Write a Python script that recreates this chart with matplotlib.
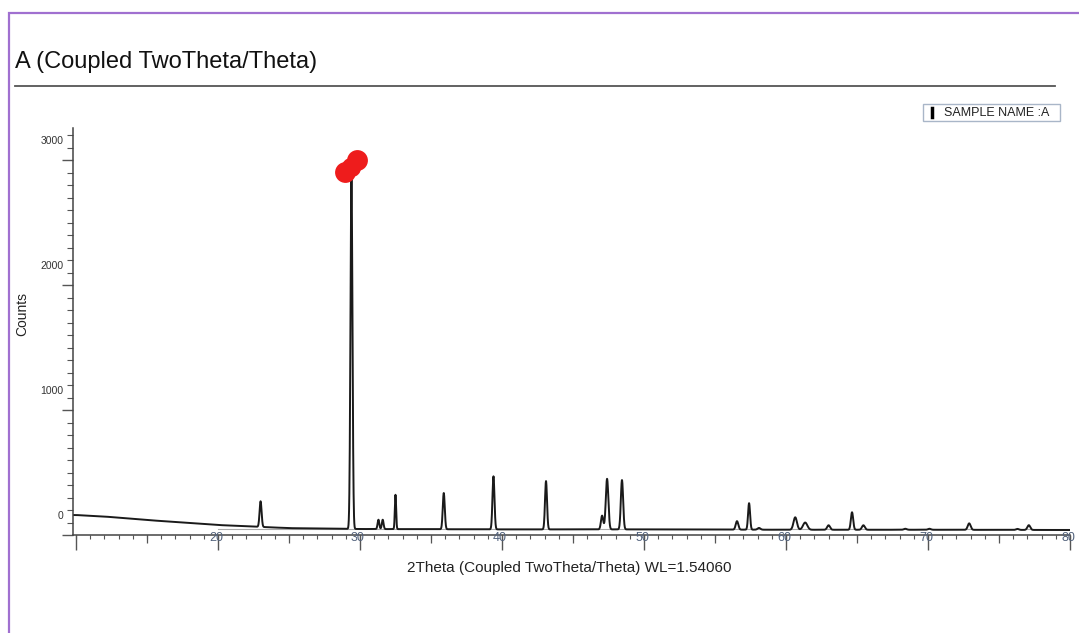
import numpy as np
import matplotlib
matplotlib.use("Agg")
import matplotlib.pyplot as plt
import matplotlib.transforms as mtransforms
from matplotlib.patches import Rectangle
from matplotlib.lines import Line2D

plt.rcParams['font.family'] = ['Liberation Sans', 'DejaVu Sans']

# background counts read at a few 2theta positions
bg_theta = [10, 12, 15, 20, 25, 30, 40, 50, 60, 70, 80]
bg_counts = [160, 148, 120, 80, 55, 48, 45, 45, 42, 42, 40]

# peaks: position (deg), height above background (counts), width (sigma, deg)
peak_pos = [23.0, 29.4, 31.3, 31.6, 32.5, 35.9, 39.4, 43.1, 47.05, 47.4, 48.45,
            56.55, 57.4, 58.1, 60.65, 61.35, 63.0, 64.65, 65.45, 68.4, 70.1,
            72.9, 76.3, 77.1]
peak_h = [205, 2800, 75, 75, 275, 290, 425, 387, 110, 405, 395,
          68, 212, 14, 100, 58, 36, 140, 36, 8, 8,
          52, 8, 38]
peak_w = [0.07, 0.07, 0.06, 0.06, 0.045, 0.07, 0.07, 0.07, 0.08, 0.09, 0.08,
          0.09, 0.07, 0.1, 0.12, 0.15, 0.1, 0.08, 0.1, 0.1, 0.1,
          0.1, 0.1, 0.1]

two_theta = np.arange(9.79, 80.0, 0.01)
counts = np.interp(two_theta, bg_theta, bg_counts)
for p, h, w in zip(peak_pos, peak_h, peak_w):
    counts = counts + h * np.exp(-0.5 * ((two_theta - p) / w) ** 2)

fig = plt.figure(figsize=(10.79, 6.33), dpi=100)

# purple frame + title and rule
fig.add_artist(Rectangle((9 / 1079, -0.1), 1.2, (633 - 13) / 633 + 0.1,
                         transform=fig.transFigure, fill=False,
                         edgecolor='#a070d0', lw=1.6))
fig.text(15 / 1079, 1 - 62 / 633, 'A (Coupled TwoTheta/Theta)', fontsize=17,
         va='center', ha='left', color='#111111')
fig.add_artist(Line2D([15 / 1079, 1055 / 1079], [1 - 86 / 633] * 2,
                      transform=fig.transFigure, color='#555555', lw=1.3))

ax = fig.add_axes([73 / 1079, 98 / 633, 997 / 1079, 407 / 633])
ax.plot(two_theta, counts, color='#1a1a1a', lw=1.4)
ax.plot([20, 80], [50, 50], color='#aaaaaa', lw=0.8, zorder=1)

# red mark at the main peak
ax.plot([28.95, 29.8], [2905, 3000], 'o', color='#ee1c1c', ms=15, mec='none',
        clip_on=False)
ax.plot([29.35], [2950], 'o', color='#ee1c1c', ms=14, mec='none', clip_on=False)

ax.set_xlim(9.79, 80)
ax.set_ylim(0, 3260)
for s in ['top', 'right']:
    ax.spines[s].set_visible(False)
for s in ['left', 'bottom']:
    ax.spines[s].set_color('#444444')
    ax.spines[s].set_linewidth(1.1)

ax.set_xticks(np.arange(10, 81, 10))
ax.set_xticks(np.arange(15, 81, 10), minor=True)
ax.set_xticklabels([])
ax.tick_params(axis='x', which='major', length=11, width=1, color='#555555')
ax.tick_params(axis='x', which='minor', length=6, width=0.9, color='#555555')
sec = ax.secondary_xaxis('bottom')
sec.set_xticks(np.arange(10, 81, 1))
sec.set_xticklabels([])
sec.tick_params(axis='x', length=3, width=0.8, color='#555555')
sec.spines['bottom'].set_visible(False)
down = mtransforms.ScaledTranslation(-2 / 100, -3 / 100, fig.dpi_scale_trans)
for t in range(20, 81, 10):
    ax.text(t, 0, str(t), transform=ax.get_xaxis_transform() + down,
            ha='center', va='center', fontsize=9, color='#52627c')

ax.set_yticks([0, 1000, 2000, 3000])
ax.set_yticks(np.arange(0, 3201, 100), minor=True)
ax.tick_params(axis='y', which='major', length=8, width=1, color='#555555',
               labelsize=7.5, labelcolor='#333333', pad=-1)
ax.tick_params(axis='y', which='minor', length=4, width=0.8, color='#555555')
shift = mtransforms.ScaledTranslation(0, 20 / 100, fig.dpi_scale_trans)
for lab in ax.get_yticklabels():
    lab.set_transform(lab.get_transform() + shift)

fig.text(22 / 1079, 1 - 314 / 633, 'Counts', rotation=90, fontsize=10,
         ha='center', va='center', color='#222222')
fig.text(569 / 1079, 1 - 568 / 633, '2Theta (Coupled TwoTheta/Theta) WL=1.54060',
         fontsize=11, ha='center', va='center', color='#222222')

# legend box
fig.add_artist(Rectangle((923 / 1079, 1 - 121 / 633), 137 / 1079, 17 / 633,
                         transform=fig.transFigure, facecolor='white',
                         edgecolor='#a9b6c8', lw=1))
fig.add_artist(Line2D([932 / 1079] * 2, [1 - 117 / 633, 1 - 108 / 633],
                      transform=fig.transFigure, color='black', lw=2.5))
fig.text(944 / 1079, 1 - 112.5 / 633, 'SAMPLE NAME :A', fontsize=9,
         ha='left', va='center', color='#222222')

fig.savefig('out.png', dpi=100)
